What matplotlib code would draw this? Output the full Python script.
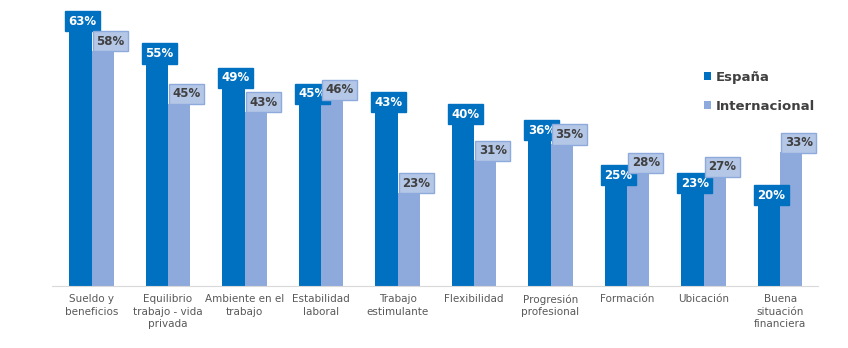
import numpy as np
import matplotlib.pyplot as plt

categories = ["Sueldo y\nbeneficios", "Equilibrio\ntrabajo - vida\nprivada", "Ambiente en el\ntrabajo",
              "Estabilidad\nlaboral", "Trabajo\nestimulante", "Flexibilidad", "Progresión\nprofesional",
              "Formación", "Ubicación", "Buena\nsituación\nfinanciera"]
espana = [63, 55, 49, 45, 43, 40, 36, 25, 23, 20]
internacional = [58, 45, 43, 46, 23, 31, 35, 28, 27, 33]

C_ES = "#0070C0"
C_INT = "#8EA9DB"

fig = plt.figure(figsize=(8.48, 3.48), dpi=100)
ax = fig.add_axes([0.061, 0.178, 0.904, 0.815])

x = np.arange(len(categories))
w = 0.29
ax.bar(x - w / 2, espana, w, color=C_ES, label="España")
ax.bar(x + w / 2, internacional, w, color=C_INT, label="Internacional")

for xi, v in zip(x, espana):
    ax.text(xi - w / 2 + 0.03, v + 0.8, f"{v}%", ha="center", va="bottom", fontsize=8.5,
            fontweight="bold", color="white",
            bbox=dict(boxstyle="square,pad=0.3", fc=C_ES, ec=C_ES))
for xi, v in zip(x, internacional):
    ax.text(xi + w / 2 + 0.1, v + 0.8, f"{v}%", ha="center", va="bottom", fontsize=8.5,
            fontweight="bold", color="#404040",
            bbox=dict(boxstyle="square,pad=0.3", fc="#B4C7E7", ec=C_INT))

ax.set_xlim(-0.52, 9.5)
ax.set_ylim(0, 70)
ax.set_xticks(x)
ax.set_xticklabels(categories, fontsize=7.5, color="#595959", linespacing=1.3)
ax.tick_params(axis="x", length=0, pad=6)
ax.set_yticks([])
for s in ["top", "right", "left"]:
    ax.spines[s].set_visible(False)
ax.spines["bottom"].set_color("#D9D9D9")

leg = ax.legend(loc="upper left", bbox_to_anchor=(0.835, 0.80), frameon=False,
                prop={"weight": "bold", "size": 9.5}, handlelength=0.55, handleheight=0.55,
                handletextpad=0.4, labelspacing=1.2)
for t in leg.get_texts():
    t.set_color("#404040")

fig.savefig("out.png", dpi=100)
